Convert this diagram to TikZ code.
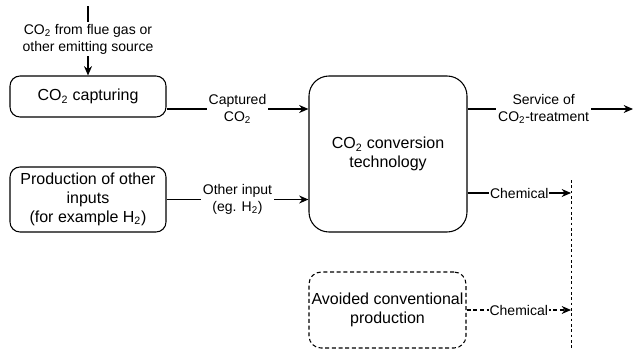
\documentclass[tikz,border=0pt]{standalone}
\usepackage{fontspec}
\setmainfont{Liberation Sans}
\usetikzlibrary{arrows.meta}
\begin{document}
\begin{tikzpicture}[x=0.75pt,y=-0.75pt,
 box/.style={draw, rounded corners=7.5pt, line width=0.8pt, align=center, font=\fontsize{12}{14}\selectfont, inner sep=0pt},
 lbl/.style={fill=white, align=center, font=\fontsize{10.5}{12.5}\selectfont, inner sep=1.5pt},
 arr/.style={-{Stealth[length=7pt,width=6pt]}, line width=0.9pt},
 dotline/.style={line width=0.75pt, dash pattern=on 2pt off 2pt},
 dashline/.style={line width=0.8pt, dash pattern=on 3pt off 2pt},
]
\useasboundingbox (0,0) rectangle (635,350);

\node[box, minimum width=117pt, minimum height=30.75pt] (capture) at (88,96.5) {CO\textsubscript{2} capturing};
\node[box, minimum width=117pt, minimum height=48.75pt] (prod) at (88,199.5) {Production of other\\inputs\\(for example H\textsubscript{2})};
\node[box, rounded corners=15pt, minimum width=118.5pt, minimum height=117pt] (conv) at (388,154) {CO\textsubscript{2} conversion\\technology};
\node[box, dashline, rounded corners=9pt, minimum width=117.75pt, minimum height=57pt] (avoid) at (387.5,310) {Avoided conventional\\production};

\coordinate (src) at (88,6);
\coordinate (ycap) at (0,109);
\coordinate (ychem) at (0,193);
\coordinate (servend) at (633,109);
\coordinate (dtop) at (571,180);
\coordinate (dbot) at (571,350);
\coordinate (chem1) at (571,193);
\coordinate (chem2) at (571,310);

\draw[arr] (src) -- node[lbl, pos=0.48] {CO\textsubscript{2} from flue gas or\\other emitting source} (capture.north);
\draw[arr] (capture.east |- ycap) -- node[lbl] {Captured\\CO\textsubscript{2}} (conv.west |- ycap);
\draw[arr] (prod.east) -- node[lbl] {Other input\\(eg. H\textsubscript{2})} (conv.west |- prod.east);
\draw[arr] (conv.east |- ycap) -- node[lbl, pos=0.46] {Service of\\CO\textsubscript{2}-treatment} (servend);
\draw[arr] (conv.east |- ychem) -- node[lbl, inner sep=0.5pt] {Chemical} (chem1);
\draw[dotline] (dtop) -- (dbot);
\draw[arr, dashline] (avoid.east) -- node[lbl, inner sep=0.5pt] {Chemical} (chem2);
\end{tikzpicture}
\end{document}
